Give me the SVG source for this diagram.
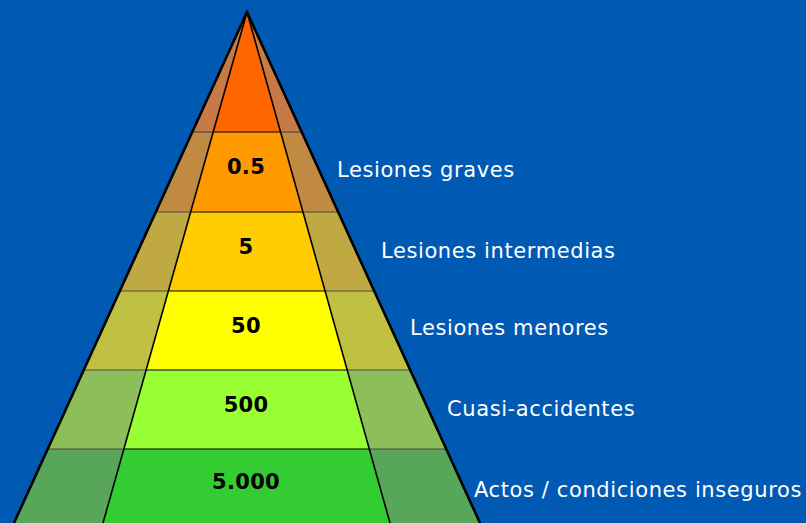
<svg xmlns="http://www.w3.org/2000/svg" width="806" height="523" viewBox="0 0 806 523">
<style>
.num{font-family:"DejaVu Sans",Verdana,sans-serif;font-weight:bold;font-size:21px;fill:#000;text-anchor:middle;letter-spacing:0.3px}
.lbl{font-family:"DejaVu Sans",Verdana,sans-serif;font-size:21px;fill:#fff;letter-spacing:0.6px}
.sep{stroke:#000;stroke-width:1.2}
.sepside{stroke:#4a4a4a;stroke-width:1.2}
.inner{stroke:#000;stroke-width:1.6;fill:none}
.outer{stroke:#000;stroke-width:2.6;fill:none;stroke-linejoin:round}
</style>
<rect x="0" y="0" width="806" height="523" fill="#0059B2"/>
<g id="tier1">
<polygon points="247,12 192.3,132 213.2,132" fill="#C77A45"/>
<polygon points="247,12 213.2,132 280.6,132" fill="#FF6600"/>
<polygon points="247,12 280.6,132 301.7,132" fill="#C77A45"/>
</g>
<g id="tier2">
<polygon points="192.3,132 213.2,132 190.6,212 155.8,212" fill="#C08A42"/>
<polygon points="213.2,132 280.6,132 303,212 190.6,212" fill="#FF9900"/>
<polygon points="280.6,132 301.7,132 338.2,212 303,212" fill="#C08A42"/>
<text class="num" x="246" y="174">0.5</text>
<text class="lbl" x="337" y="177">Lesiones graves</text>
</g>
<g id="tier3">
<polygon points="155.8,212 190.6,212 168.4,291 119.8,291" fill="#C0A842"/>
<polygon points="190.6,212 303,212 325.1,291 168.4,291" fill="#FFCC00"/>
<polygon points="303,212 338.2,212 374.2,291 325.1,291" fill="#C0A842"/>
<text class="num" x="246" y="254">5</text>
<text class="lbl" x="381" y="258">Lesiones intermedias</text>
</g>
<g id="tier4">
<polygon points="119.8,291 168.4,291 146.1,370 83.8,370" fill="#C0C042"/>
<polygon points="168.4,291 325.1,291 347.2,370 146.1,370" fill="#FFFF00"/>
<polygon points="325.1,291 374.2,291 410.2,370 347.2,370" fill="#C0C042"/>
<text class="num" x="246" y="333">50</text>
<text class="lbl" x="410" y="335">Lesiones menores</text>
</g>
<g id="tier5">
<polygon points="83.8,370 146.1,370 123.9,449 47.7,449" fill="#8CBF5A"/>
<polygon points="146.1,370 347.2,370 369.3,449 123.9,449" fill="#99FF33"/>
<polygon points="347.2,370 410.2,370 446.3,449 369.3,449" fill="#8CBF5A"/>
<text class="num" x="246" y="412">500</text>
<text class="lbl" x="447" y="416">Cuasi-accidentes</text>
</g>
<g id="tier6">
<polygon points="47.7,449 123.9,449 103,523 14,523" fill="#58A65A"/>
<polygon points="123.9,449 369.3,449 390,523 103,523" fill="#33CC33"/>
<polygon points="369.3,449 446.3,449 480,523 390,523" fill="#58A65A"/>
<text class="num" x="246" y="489">5.000</text>
<text class="lbl" x="474" y="497">Actos / condiciones inseguros</text>
</g>
<g id="connectors">
<line class="sepside" x1="192.3" y1="132" x2="213.2" y2="132"/>
<line class="sep" x1="213.2" y1="132" x2="280.6" y2="132"/>
<line class="sepside" x1="280.6" y1="132" x2="301.7" y2="132"/>
<line class="sepside" x1="155.8" y1="212" x2="190.6" y2="212"/>
<line class="sep" x1="190.6" y1="212" x2="303" y2="212"/>
<line class="sepside" x1="303" y1="212" x2="338.2" y2="212"/>
<line class="sepside" x1="119.8" y1="291" x2="168.4" y2="291"/>
<line class="sep" x1="168.4" y1="291" x2="325.1" y2="291"/>
<line class="sepside" x1="325.1" y1="291" x2="374.2" y2="291"/>
<line class="sepside" x1="83.8" y1="370" x2="146.1" y2="370"/>
<line class="sep" x1="146.1" y1="370" x2="347.2" y2="370"/>
<line class="sepside" x1="347.2" y1="370" x2="410.2" y2="370"/>
<line class="sepside" x1="47.7" y1="449" x2="123.9" y2="449"/>
<line class="sep" x1="123.9" y1="449" x2="369.3" y2="449"/>
<line class="sepside" x1="369.3" y1="449" x2="446.3" y2="449"/>
<polyline class="inner" points="103,523 247,12 390,523"/>
<polyline class="outer" points="14,523 247,12 480,523"/>
</g>
</svg>
